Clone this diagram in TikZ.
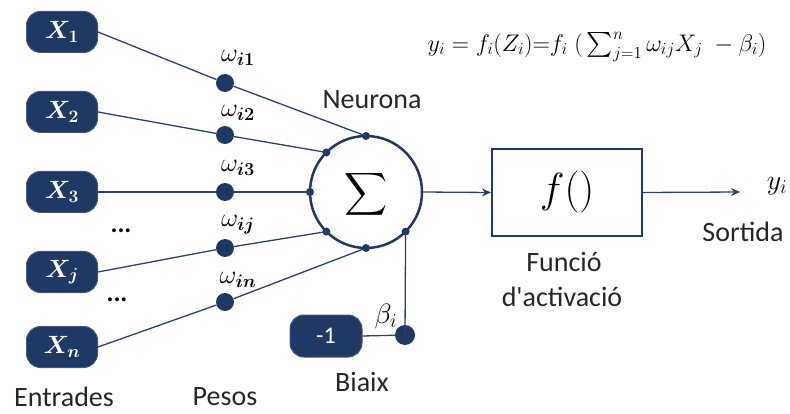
\documentclass[tikz,border=0pt]{standalone}
\usepackage{fix-cm}
\usepackage{amsmath}
\usepackage{exscale}
\usepackage{bm}
\usepackage{fontspec}
\setmainfont{Carlito}
\usetikzlibrary{arrows.meta}
\definecolor{navy}{HTML}{1F3864}
\definecolor{wire}{HTML}{2B4170}
\tikzset{
  inbox/.style={draw=navy!85!white, fill=navy, rounded corners=14pt, minimum width=71pt,
    minimum height=41pt, line width=1pt, text=white, inner sep=0pt,
    font=\fontsize{25}{28}\selectfont},
  wdot/.style={circle, fill=navy, minimum size=18pt, inner sep=0pt},
  sdot/.style={circle, fill=navy, minimum size=8pt, inner sep=0pt},
  wire/.style={draw=wire, line width=1.3pt},
  lbl/.style={font=\fontsize{28}{32}\selectfont, text=black!85},
  wlbl/.style={font=\fontsize{26}{30}\selectfont},
  tip/.style={-{Stealth[length=9pt,width=8pt]}}
}
\begin{document}
\begin{tikzpicture}[x=1pt,y=-1pt]
\useasboundingbox (0,0) rectangle (790,414);

% neuron body
\node[circle, draw=navy, line width=2.5pt, minimum size=112pt, outer sep=0pt, inner sep=0pt] (N) at (366,192) {};
\node[font=\fontsize{34}{40}\selectfont, scale=1.2] (sig) at (366,194) {$\displaystyle\sum$};

% inputs
\node[inbox] (X1) at (62,32)  {$\bm{X_1}$};
\node[inbox] (X2) at (62,112) {$\bm{X_2}$};
\node[inbox] (X3) at (62,192) {$\bm{X_3}$};
\node[inbox] (Xj) at (62,272) {$\bm{X_j}$};
\node[inbox] (Xn) at (62,347) {$\bm{X_n}$};
\node[font=\fontsize{26}{30}\selectfont\bfseries] (d1) at (121,231) {...};
\node[font=\fontsize{26}{30}\selectfont\bfseries] (d2) at (117,300) {...};

% weights
\node[wdot] (w1) at (225,83)  {};
\node[wdot] (w2) at (225,135) {};
\node[wdot] (w3) at (225,192) {};
\node[wdot] (wj) at (225,248) {};
\node[wdot] (wn) at (225,302) {};
\node[wlbl] (lw1) at (238,58)  {$\omega_{\bm{i1}}$};
\node[wlbl] (lw2) at (238,113) {$\omega_{\bm{i2}}$};
\node[wlbl] (lw3) at (238,168) {$\omega_{\bm{i3}}$};
\node[wlbl] (lwj) at (238,225) {$\omega_{\bm{ij}}$};
\node[wlbl] (lwn) at (238,280) {$\omega_{\bm{in}}$};

% contact points on the neuron
\foreach \a/\n in {90/p1,135/p2,180/p3,225/pj,270/pn,-45/pb}
  \node[sdot] (\n) at (N.\a) {};

% connections
\draw[wire] (X1.east) -- (w1) -- (p1.center);
\draw[wire] (X2.east) -- (w2) -- (p2.center);
\draw[wire] (X3.east) -- (w3) -- (p3.center);
\draw[wire] (Xj.east) -- (wj) -- (pj.center);
\draw[wire] (Xn.east) -- (wn) -- (pn.center);

% bias
\node[inbox, minimum width=72pt, minimum height=42pt, font=\fontsize{24}{28}\selectfont] (B) at (326,336) {-1};
\node[wdot, minimum size=20pt] (bd) at (405,335) {};
\draw[wire] (B.east) -- (bd);
\draw[wire] (bd.center) -- (pb.center);
\node[font=\fontsize{28}{32}\selectfont] (lb) at (386,316) {$\beta_i$};

% activation
\node[draw=navy, line width=2pt, minimum width=150pt, minimum height=87pt, inner sep=0pt,
  font=\fontsize{42}{48}\selectfont] (F) at (567,192.5) {$f()$};
\draw[wire, tip] (N.east) -- (F.west);
\coordinate (out) at (740,192);
\draw[wire, tip] (F.east) -- (out);
\node[font=\fontsize{28}{32}\selectfont] (y) at (777,186) {$y_i$};

% labels
\node[lbl] (tn) at (372,100) {Neurona};
\node[lbl] (tb) at (362,382) {Biaix};
\node[lbl] (te) at (64,397) {Entrades};
\node[lbl] (tp) at (225,397) {Pesos};
\node[lbl] (ts) at (743,232) {Sortida};
\node[lbl] (tf1) at (564,262) {Funció};
\node[lbl] (tf2) at (562,297) {d\textquotesingle activació};

% formula
\node[font=\fontsize{24}{28}\selectfont] (eq) at (597,47)
  {$y_i = f_i(Z_i){=}f_i\;(\,\textstyle\sum_{j=1}^{n}\omega_{ij}X_j\;-\beta_i)$};
\end{tikzpicture}
\end{document}
